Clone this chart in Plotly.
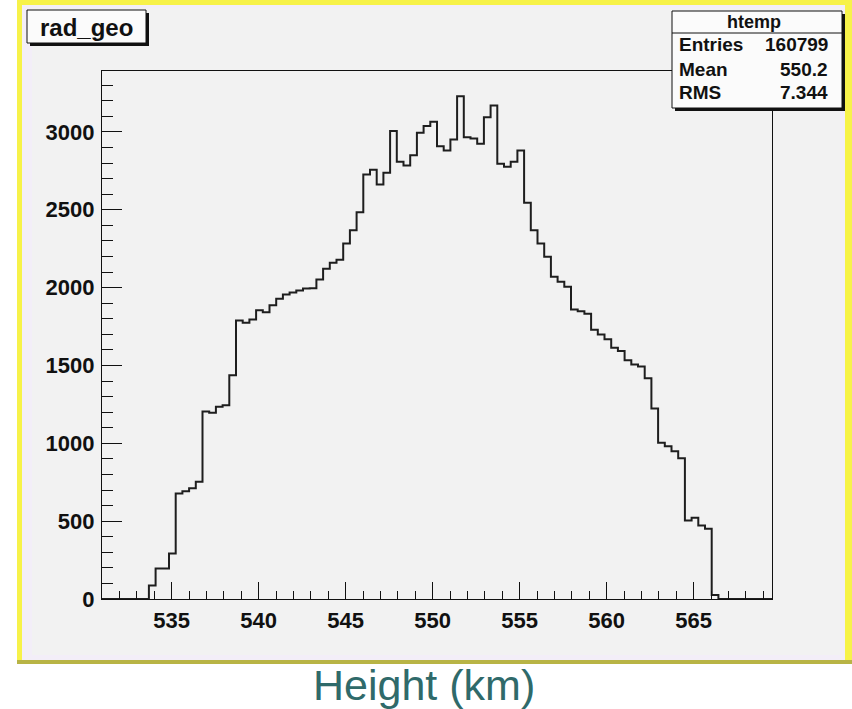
import plotly.graph_objects as go

# ---- data -------------------------------------------------------------
x_min = 531.0
x_max = 569.5
n_bins = 100
counts = [
    0, 0, 0, 0, 0, 0, 0, 87, 196, 196,
    292, 678, 692, 711, 753, 1204, 1196, 1234, 1245, 1437,
    1789, 1774, 1795, 1855, 1842, 1887, 1928, 1956, 1968, 1981,
    1994, 1996, 2052, 2121, 2159, 2178, 2283, 2369, 2484, 2726,
    2757, 2662, 2737, 3005, 2808, 2784, 2850, 2994, 3037, 3065,
    2908, 2880, 2951, 3229, 2966, 2958, 2923, 3094, 3170, 2795,
    2776, 2808, 2880, 2545, 2369, 2283, 2198, 2069, 2037, 2005,
    1859, 1848, 1832, 1729, 1699, 1669, 1613, 1592, 1533, 1506,
    1493, 1418, 1224, 1003, 981, 949, 904, 504, 522, 472,
    451, 25, 0, 0, 0, 0, 0, 0, 0, 0,
]
y_max = 3391
y_tick_vals = [0, 500, 1000, 1500, 2000, 2500, 3000]
x_tick_vals = [535, 540, 545, 550, 555, 560, 565]
title_text = "rad_geo"
stats_name = "htemp"
stats_labels = ["Entries", "Mean", "RMS"]
stats_values = ["160799", "550.2", "7.344"]
x_title = "Height (km)"

# ---- geometry helpers (pixel -> paper) -------------------------------
W, H = 852, 709
L, R, T, B = 102, 772, 71, 599


def px(X):
    return (X - L) / (R - L)


def py(Y):
    return (B - Y) / (B - T)


bw = (x_max - x_min) / n_bins
edges = [x_min + i * bw for i in range(n_bins + 1)]
xs = edges
ys = counts + [counts[-1]]

fig = go.Figure()
fig.add_trace(go.Scatter(
    x=xs, y=ys, mode="lines", line_shape="hv",
    line=dict(color="#1e1e1e", width=2), hoverinfo="skip", showlegend=False,
))

CANVAS = "#f2f2f2"
shapes = []
# canvas background and borders
shapes.append(dict(type="rect", xref="paper", yref="paper", layer="below",
                   x0=px(20), x1=px(846), y0=py(661), y1=py(4),
                   fillcolor="#f3eef8", line=dict(width=0)))
shapes.append(dict(type="rect", xref="paper", yref="paper", layer="below",
                   x0=px(32), x1=px(840), y0=py(655), y1=py(8),
                   fillcolor=CANVAS, line=dict(width=0)))
shapes.append(dict(type="rect", xref="paper", yref="paper", layer="below",
                   x0=px(17), x1=px(22), y0=py(663), y1=py(0),
                   fillcolor="#f7f24a", line=dict(width=0)))
shapes.append(dict(type="rect", xref="paper", yref="paper", layer="below",
                   x0=px(17), x1=px(852), y0=py(5), y1=py(0),
                   fillcolor="#f7f24a", line=dict(width=0)))
shapes.append(dict(type="rect", xref="paper", yref="paper", layer="below",
                   x0=px(845), x1=px(852), y0=py(663), y1=py(0),
                   fillcolor="#f7f24a", line=dict(width=0)))
shapes.append(dict(type="rect", xref="paper", yref="paper", layer="below",
                   x0=px(17), x1=px(852), y0=py(664), y1=py(660),
                   fillcolor="#b8b445", line=dict(width=0)))

# title box (with shadow)
shapes.append(dict(type="rect", xref="paper", yref="paper", layer="above",
                   x0=px(30), x1=px(149), y0=py(46), y1=py(13),
                   fillcolor="#111111", line=dict(width=0)))
shapes.append(dict(type="rect", xref="paper", yref="paper", layer="above",
                   x0=px(27), x1=px(146), y0=py(43), y1=py(10),
                   fillcolor="#fbfbfb", line=dict(color="#111111", width=1)))
# stats box (with shadow)
shapes.append(dict(type="rect", xref="paper", yref="paper", layer="above",
                   x0=px(675), x1=px(845), y0=py(111), y1=py(14),
                   fillcolor="#111111", line=dict(width=0)))
shapes.append(dict(type="rect", xref="paper", yref="paper", layer="above",
                   x0=px(672), x1=px(842), y0=py(108), y1=py(11),
                   fillcolor="#fbfbfb", line=dict(color="#111111", width=1)))
shapes.append(dict(type="line", xref="paper", yref="paper", layer="above",
                   x0=px(672), x1=px(842), y0=py(33), y1=py(33),
                   line=dict(color="#111111", width=1)))

annotations = []
BOLD = dict(family="Liberation Sans, Arial, sans-serif", color="#111111", weight="bold")
annotations.append(dict(xref="paper", yref="paper", x=px(86), y=py(27),
                        text=title_text, showarrow=False, xanchor="center", yanchor="middle",
                        font=dict(size=24, **BOLD)))
annotations.append(dict(xref="paper", yref="paper", x=px(754), y=py(22),
                        text=stats_name, showarrow=False, xanchor="center", yanchor="middle",
                        font=dict(size=18, **BOLD)))
row_y = [45, 70, 93]
for lab, val, yy in zip(stats_labels, stats_values, row_y):
    annotations.append(dict(xref="paper", yref="paper", x=px(677), y=py(yy),
                            text=lab, showarrow=False, xanchor="left", yanchor="middle",
                            font=dict(size=19, **BOLD)))
    annotations.append(dict(xref="paper", yref="paper", x=px(830), y=py(yy),
                            text=val, showarrow=False, xanchor="right", yanchor="middle",
                            font=dict(size=19, **BOLD)))
annotations.append(dict(xref="paper", yref="paper", x=px(424), y=py(685),
                        text=x_title, showarrow=False, xanchor="center", yanchor="middle",
                        font=dict(size=43, family="Liberation Sans, Arial, sans-serif",
                                  color="#2f6a6a")))

tickfont = dict(size=22, family="Liberation Sans, Arial, sans-serif", color="#111111",
                weight="bold")

fig.update_layout(
    width=W, height=H,
    margin=dict(l=L, r=W - R, t=T, b=H - B, pad=0),
    paper_bgcolor="white", plot_bgcolor=CANVAS,
    shapes=shapes, annotations=annotations, showlegend=False,
    xaxis=dict(range=[x_min, x_max], tickmode="array", tickvals=x_tick_vals,
               ticktext=[str(v) for v in x_tick_vals],
               ticks="inside", ticklen=17, tickwidth=1.3, tickcolor="#111111",
               minor=dict(ticks="inside", ticklen=8, dtick=1, tick0=531,
                          tickwidth=1.3, tickcolor="#111111", showgrid=False),
               showgrid=False, zeroline=False, showline=True, linecolor="#111111",
               linewidth=1.3, mirror=True, tickfont=tickfont, ticklabelstandoff=1),
    yaxis=dict(range=[0, y_max], tickmode="array", tickvals=y_tick_vals,
               ticktext=[str(v) for v in y_tick_vals],
               ticks="inside", ticklen=20, tickwidth=1.3, tickcolor="#111111",
               minor=dict(ticks="inside", ticklen=11, dtick=100, tick0=0,
                          tickwidth=1.3, tickcolor="#111111", showgrid=False),
               showgrid=False, zeroline=False, showline=True, linecolor="#111111",
               linewidth=1.3, mirror=True, tickfont=tickfont, ticklabelstandoff=2),
)

fig.write_html("out.html")
